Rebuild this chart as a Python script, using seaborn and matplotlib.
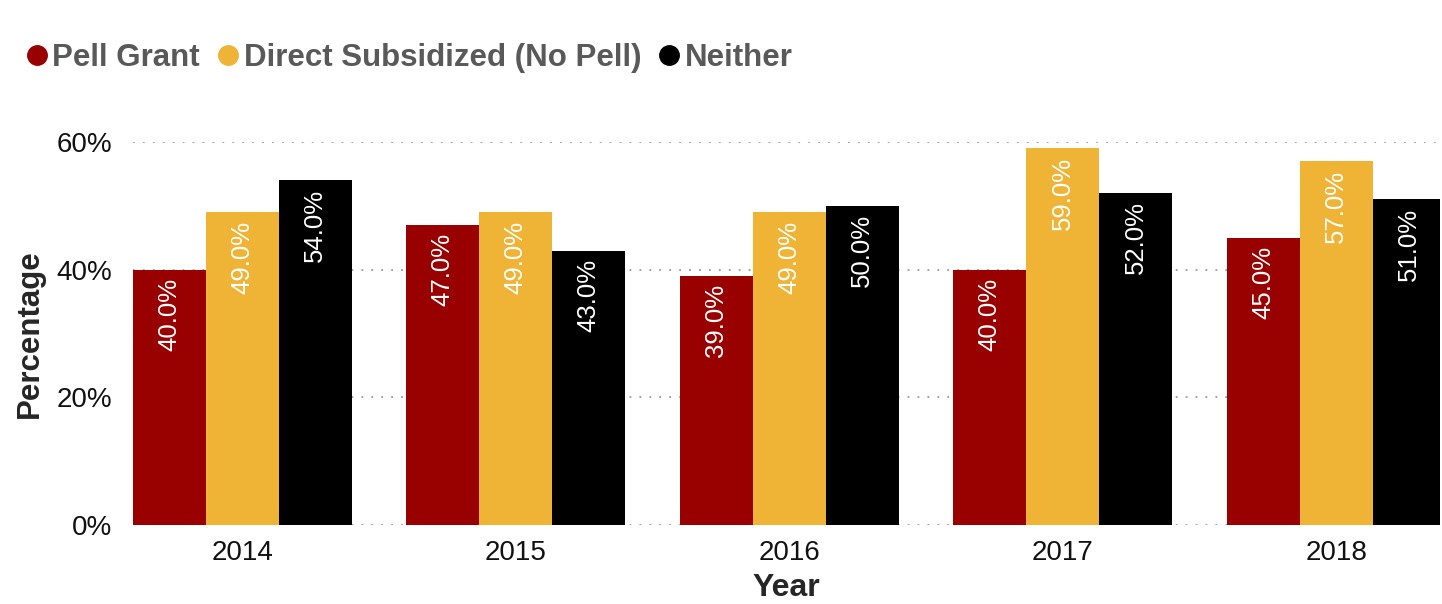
import pandas as pd
import matplotlib.pyplot as plt
import seaborn as sns
from matplotlib.lines import Line2D

# Datos
years = ['2014', '2015', '2016', '2017', '2018']
pell = [40.0, 47.0, 39.0, 40.0, 45.0]
direct_sub = [49.0, 49.0, 49.0, 59.0, 57.0]
neither = [54.0, 43.0, 50.0, 52.0, 51.0]
groups = ['Pell Grant', 'Direct Subsidized (No Pell)', 'Neither']
colors = ['#990000', '#EFB336', '#000000']

df = pd.DataFrame({
    'Year': years * 3,
    'Percentage': pell + direct_sub + neither,
    'Group': [groups[0]] * 5 + [groups[1]] * 5 + [groups[2]] * 5,
})

sns.set_style('white')
plt.rcParams['font.family'] = ['Liberation Sans', 'DejaVu Sans']

fig = plt.figure(figsize=(14.42, 6.04), dpi=100)
ax = fig.add_axes([0.0922, 0.1308, 0.9064, 0.6341])

sns.barplot(data=df, x='Year', y='Percentage', hue='Group', palette=colors,
            width=0.8, saturation=1, linewidth=0, legend=False, ax=ax)

# Etiquetas dentro de las barras
for cont in ax.containers:
    for bar in cont:
        h = bar.get_height()
        ax.text(bar.get_x() + bar.get_width() / 2, h - 1.3, f'{h:.1f}%',
                rotation=90, ha='center', va='top', color='white', fontsize=18.5)

ax.set_ylim(0, 60)
ax.set_xlim(-0.4, 4.38)
ax.set_yticks([0, 20, 40, 60])
ax.set_yticklabels(['0%', '20%', '40%', '60%'])
ax.tick_params(axis='y', length=0, labelsize=20, pad=15, colors='#111111')
ax.tick_params(axis='x', length=0, labelsize=20, pad=11, colors='#111111')
ax.yaxis.grid(True, linestyle=(0, (1, 4.5)), color='#999999', linewidth=1.3)
ax.set_axisbelow(True)
sns.despine(ax=ax, left=True, bottom=True)

ax.set_ylabel('Percentage', fontsize=22.5, fontweight='bold', color='#262626', labelpad=8)
ax.set_xlabel('Year', fontsize=23, fontweight='bold', color='#262626', labelpad=5)

# Leyenda
handles = [Line2D([], [], marker='o', linestyle='', markersize=14,
                  markerfacecolor=c, markeredgecolor=c) for c in colors]
leg = fig.legend(handles, groups, loc='upper left', bbox_to_anchor=(-0.005, 0.975),
                 ncol=3, frameon=False, handletextpad=0.0, columnspacing=0.4,
                 handlelength=1.0, prop={'size': 22.5, 'weight': 'bold'})
for t in leg.get_texts():
    t.set_color('#595959')

fig.savefig('out.png', dpi=100)
